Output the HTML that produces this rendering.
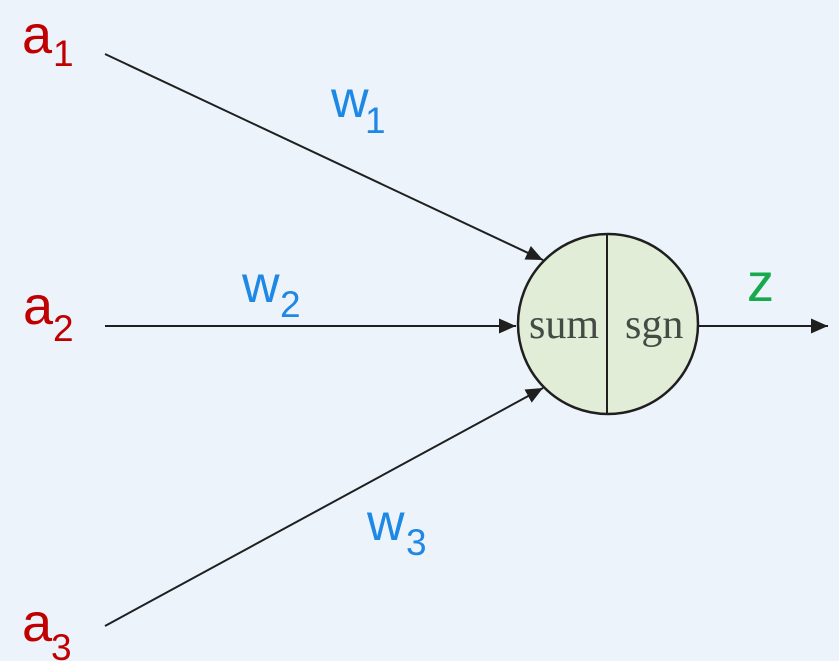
<!DOCTYPE html>
<html>
<head>
<meta charset="utf-8">
<style>
  html, body { margin: 0; padding: 0; background: #edf3fa; }
  svg { display: block; }
  .a { font-family: "Liberation Sans", sans-serif; fill: #c00000; }
  .w { font-family: "Liberation Sans", sans-serif; fill: #1e88e5; }
  .z { font-family: "Liberation Sans", sans-serif; fill: #16aa4c; }
  .s { font-family: "Liberation Serif", serif; fill: #444a44; font-size: 42px; }
</style>
</head>
<body>
<svg width="839" height="661" viewBox="0 0 839 661" xmlns="http://www.w3.org/2000/svg">
  <defs>
    <marker id="ah" markerWidth="17" markerHeight="15" refX="17" refY="7.5" orient="auto" markerUnits="userSpaceOnUse">
      <path d="M0,0 L17,7.5 L0,15 Z" fill="#1f1f1f"/>
    </marker>
  </defs>
  <rect width="839" height="661" fill="#edf3fa"/>

  <!-- connectors -->
  <line x1="105" y1="54" x2="543" y2="260" stroke="#1f1f1f" stroke-width="2" marker-end="url(#ah)"/>
  <line x1="105" y1="326" x2="516" y2="326" stroke="#1f1f1f" stroke-width="2" marker-end="url(#ah)"/>
  <line x1="105" y1="626" x2="543" y2="388" stroke="#1f1f1f" stroke-width="2" marker-end="url(#ah)"/>
  <line x1="699" y1="326" x2="828" y2="326" stroke="#1f1f1f" stroke-width="2" marker-end="url(#ah)"/>

  <!-- neuron -->
  <circle cx="608" cy="324" r="90" fill="#e2edd8" stroke="#1f1f1f" stroke-width="2.5"/>
  <line x1="607" y1="234" x2="607" y2="414" stroke="#1f1f1f" stroke-width="2"/>
  <text class="s" x="529" y="338">sum</text>
  <text class="s" x="625" y="338">sgn</text>

  <!-- inputs -->
  <text class="a" x="22" y="53" font-size="54">a</text>
  <text class="a" x="53" y="66" font-size="37">1</text>
  <text class="a" x="23" y="324" font-size="54">a</text>
  <text class="a" x="53" y="341" font-size="37">2</text>
  <text class="a" x="22" y="641" font-size="54">a</text>
  <text class="a" x="51" y="660" font-size="37">3</text>

  <!-- weights -->
  <text class="w" x="331" y="117" font-size="52">w</text>
  <text class="w" x="365" y="133" font-size="37">1</text>
  <text class="w" x="242" y="302" font-size="52">w</text>
  <text class="w" x="280" y="317" font-size="37">2</text>
  <text class="w" x="367" y="540" font-size="52">w</text>
  <text class="w" x="406" y="555" font-size="37">3</text>

  <!-- output -->
  <text class="z" x="747" y="301" font-size="54">z</text>
</svg>
</body>
</html>
